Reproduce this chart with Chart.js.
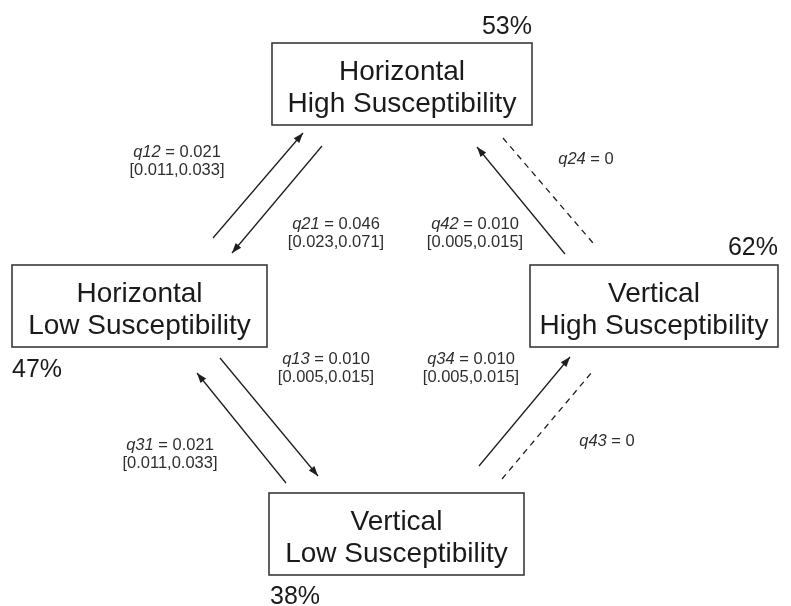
<!DOCTYPE html>
<html>
<head>
<meta charset="utf-8">
<script src="https://cdn.jsdelivr.net/npm/chart.js@4/dist/chart.umd.min.js"></script>
<style>
  html, body { margin: 0; padding: 0; background: #ffffff; }
  #wrap { width: 791px; height: 606px; }
</style>
</head>
<body>
<div id="wrap"><canvas id="c" width="791" height="606"></canvas></div>
<script>
// ---------- data ----------
const stateLine1 = ['Horizontal', 'Horizontal', 'Vertical', 'Vertical'];
const stateLine2 = ['High Susceptibility', 'Low Susceptibility', 'High Susceptibility', 'Low Susceptibility'];
const statePct = [53, 47, 62, 38];

const rateNames = ['q12', 'q21', 'q13', 'q31', 'q24', 'q42', 'q34', 'q43'];
const rateValues = [0.021, 0.046, 0.010, 0.021, 0, 0.010, 0.010, 0];
const rateLow = [0.011, 0.023, 0.005, 0.011, null, 0.005, 0.005, null];
const rateHigh = [0.033, 0.071, 0.015, 0.033, null, 0.015, 0.015, null];

// ---------- layout (diagram coordinates, in scale units) ----------
const boxLayout = [
  { box: [272, 43, 532, 125], pct: { x: 532, y: 34, align: 'right' } },
  { box: [12, 265, 267, 347], pct: { x: 12, y: 377, align: 'left' } },
  { box: [530, 265, 778, 347], pct: { x: 778, y: 255, align: 'right' } },
  { box: [269, 493, 524, 575], pct: { x: 270, y: 604, align: 'left' } }
];
const arrowLayout = [
  { from: [213, 238], to: [303, 133], label: [177, 157] }, // q12
  { from: [322, 146], to: [232, 253], label: [336, 229] }, // q21
  { from: [220, 358], to: [318, 476], label: [326, 364] }, // q13
  { from: [286, 483], to: [197, 373], label: [170, 450] }, // q31
  { from: [503, 138], to: [593, 243], label: [586, 164] }, // q24
  { from: [565, 254], to: [477, 147], label: [475, 229] }, // q42
  { from: [479, 466], to: [570, 357], label: [471, 364] }, // q34
  { from: [502, 479], to: [592, 372], label: [607, 446] }  // q43
];

const FONT = '"Liberation Sans", Arial, Helvetica, sans-serif';

function fmt(v) { return v === 0 ? '0' : v.toFixed(3); }

const datasets = rateNames.map((n, i) => ({
  label: n,
  data: [
    { x: arrowLayout[i].from[0], y: arrowLayout[i].from[1] },
    { x: arrowLayout[i].to[0], y: arrowLayout[i].to[1] }
  ],
  showLine: true,
  borderColor: '#1e1e1e',
  borderWidth: 1.3,
  borderDash: rateValues[i] === 0 ? [6, 5] : [],
  pointRadius: 0,
  fill: false
}));

const diagramPlugin = {
  id: 'diagram',
  afterDatasetsDraw(chart) {
    const ctx = chart.ctx;
    const xs = chart.scales.x, ys = chart.scales.y;
    const px = v => xs.getPixelForValue(v);
    const py = v => ys.getPixelForValue(v);
    ctx.save();

    rateNames.forEach((n, i) => {
      if (rateValues[i] === 0) return;
      const a = arrowLayout[i];
      const x1 = px(a.from[0]), y1 = py(a.from[1]);
      const x2 = px(a.to[0]), y2 = py(a.to[1]);
      const ang = Math.atan2(y2 - y1, x2 - x1);
      const L = 10, W = 3.6;
      ctx.beginPath();
      ctx.moveTo(x2, y2);
      ctx.lineTo(x2 - L * Math.cos(ang) + W * Math.sin(ang), y2 - L * Math.sin(ang) - W * Math.cos(ang));
      ctx.lineTo(x2 - L * Math.cos(ang) - W * Math.sin(ang), y2 - L * Math.sin(ang) + W * Math.cos(ang));
      ctx.closePath();
      ctx.fillStyle = '#1e1e1e';
      ctx.fill();
    });

    boxLayout.forEach((b, i) => {
      const l = px(b.box[0]), t = py(b.box[1]), r = px(b.box[2]), bt = py(b.box[3]);
      ctx.fillStyle = '#ffffff';
      ctx.fillRect(l, t, r - l, bt - t);
      ctx.strokeStyle = '#3a3a3a';
      ctx.lineWidth = 1.6;
      ctx.strokeRect(l, t, r - l, bt - t);
      const cx = (l + r) / 2, cy = (t + bt) / 2;
      ctx.fillStyle = '#1a1a1a';
      ctx.font = '28px ' + FONT;
      ctx.textAlign = 'center';
      ctx.textBaseline = 'alphabetic';
      ctx.fillText(stateLine1[i], cx, cy - 4.5);
      ctx.fillText(stateLine2[i], cx, cy + 27.5);
      ctx.font = '25px ' + FONT;
      ctx.textAlign = b.pct.align;
      ctx.fillText(statePct[i] + '%', px(b.pct.x), py(b.pct.y));
    });

    rateNames.forEach((n, i) => {
      const a = arrowLayout[i];
      const cx = px(a.label[0]), by = py(a.label[1]);
      ctx.fillStyle = '#2e2e2e';
      ctx.textBaseline = 'alphabetic';
      const rest = ' = ' + fmt(rateValues[i]);
      ctx.font = 'italic 16.5px ' + FONT;
      const wN = ctx.measureText(n).width;
      ctx.font = '16.5px ' + FONT;
      const wR = ctx.measureText(rest).width;
      const x0 = cx - (wN + wR) / 2;
      ctx.textAlign = 'left';
      ctx.font = 'italic 16.5px ' + FONT;
      ctx.fillText(n, x0, by);
      ctx.font = '16.5px ' + FONT;
      ctx.fillText(rest, x0 + wN, by);
      if (rateLow[i] !== null) {
        ctx.textAlign = 'center';
        ctx.fillText('[' + fmt(rateLow[i]) + ',' + fmt(rateHigh[i]) + ']', cx, by + 18);
      }
    });
    ctx.restore();
  }
};

new Chart(document.getElementById('c'), {
  type: 'scatter',
  data: { datasets },
  options: {
    responsive: false,
    devicePixelRatio: 1,
    animation: false,
    layout: { padding: 0 },
    plugins: { legend: { display: false }, tooltip: { enabled: false } },
    scales: {
      x: { type: 'linear', min: 0, max: 791, display: false },
      y: { type: 'linear', min: 0, max: 606, reverse: true, display: false }
    }
  },
  plugins: [diagramPlugin]
});
</script>
</body>
</html>
